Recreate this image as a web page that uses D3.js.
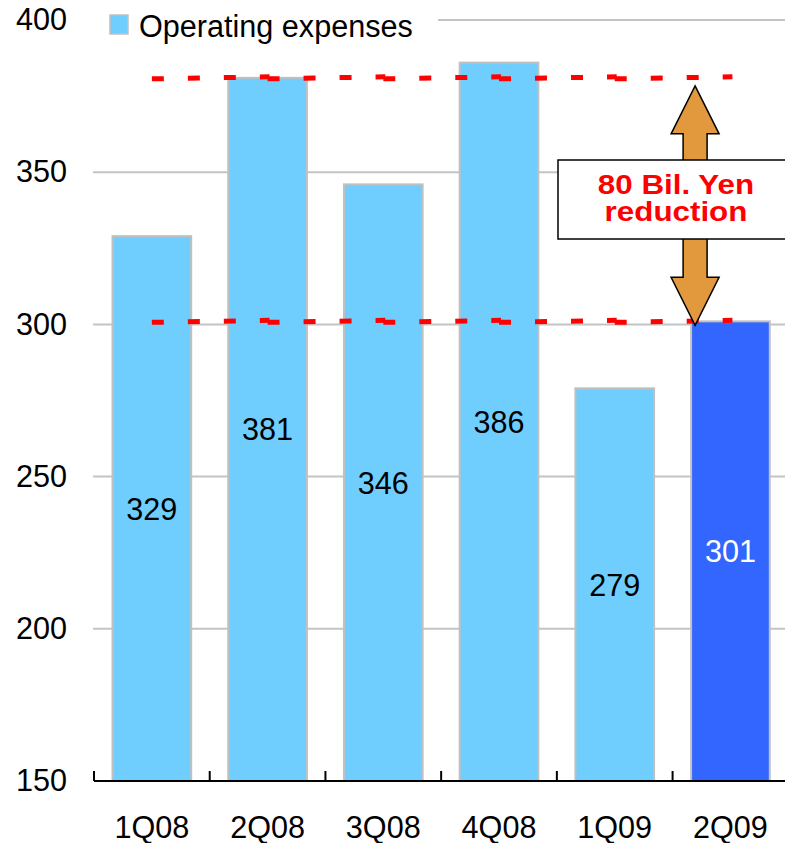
<!DOCTYPE html>
<html>
<head>
<meta charset="utf-8">
<script src="https://cdn.jsdelivr.net/npm/d3@7"></script>
<style>
  html, body { margin: 0; padding: 0; background: #fff; }
  svg { display: block; }
  text { font-family: "Liberation Sans", Arial, sans-serif; }
</style>
</head>
<body>
<svg id="chart" width="785" height="843"></svg>
<script>
// Quarterly operating expenses (billions of yen)
const quarters = ["1Q08", "2Q08", "3Q08", "4Q08", "1Q09", "2Q09"];
const expenses = [329, 381, 346, 386, 279, 301];
const yTicks = [150, 200, 250, 300, 350, 400];
const highlightQuarter = "2Q09";
const legendLabel = "Operating expenses";
const referenceLevels = [381, 301];          // dashed guide levels
const reductionLines = ["80 Bil. Yen", "reduction"];

const W = 785, H = 843;
const FS = 30.6;
const svg = d3.select("#chart");

const x = d3.scaleBand()
  .domain(quarters)
  .range([94, 788.3])
  .paddingInner(0.32)
  .paddingOuter(0.16);

const y = d3.scaleLinear().domain([150, 400]).range([781, 20]);

const lightBlue = "#70cefe";
const darkBlue = "#3366ff";

// Horizontal gridlines
const grid = svg.append("g");
yTicks.filter(t => t > 150).forEach(t => {
  grid.append("line")
    .attr("x1", t === 400 ? 438 : 93).attr("x2", W)
    .attr("y1", y(t)).attr("y2", y(t))
    .attr("stroke", "#c4c4c4").attr("stroke-width", 2);
});

// Y-axis labels (no axis line)
const yAxis = d3.axisLeft(y).tickValues(yTicks).tickSize(0).tickPadding(27);
svg.append("g")
  .attr("transform", "translate(94,0)")
  .call(yAxis)
  .call(g => g.select(".domain").remove())
  .call(g => g.selectAll("text")
    .attr("font-size", FS)
    .attr("fill", "#000")
    .attr("font-family", "Liberation Sans, Arial, sans-serif"));

// Bars
svg.append("g").selectAll("rect")
  .data(quarters.map((q, i) => ({ q, v: expenses[i] })))
  .join("rect")
  .attr("x", d => x(d.q))
  .attr("width", x.bandwidth())
  .attr("y", d => y(d.v))
  .attr("height", d => y(150) - y(d.v))
  .attr("fill", d => d.q === highlightQuarter ? darkBlue : lightBlue)
  .attr("stroke", "#c0c0c0")
  .attr("stroke-width", 2);

// Value labels in the middle of each bar
svg.append("g").selectAll("text")
  .data(quarters.map((q, i) => ({ q, v: expenses[i] })))
  .join("text")
  .attr("x", d => x(d.q) + x.bandwidth() / 2)
  .attr("y", d => (y(d.v) + y(150)) / 2)
  .attr("dy", "0.36em")
  .attr("text-anchor", "middle")
  .attr("font-size", FS)
  .attr("fill", d => d.q === highlightQuarter ? "#fff" : "#000")
  .text(d => d.v);

// X axis: baseline with upward ticks at category boundaries
const axisY = y(150);
const step = x.step();
const x0 = x.range()[0];
svg.append("line")
  .attr("x1", x0).attr("x2", W)
  .attr("y1", axisY).attr("y2", axisY)
  .attr("stroke", "#000").attr("stroke-width", 2);
d3.range(quarters.length + 1).forEach(i => {
  svg.append("line")
    .attr("x1", x0 + i * step).attr("x2", x0 + i * step)
    .attr("y1", axisY).attr("y2", axisY - 10)
    .attr("stroke", "#000").attr("stroke-width", 2);
});
svg.append("g").selectAll("text")
  .data(quarters)
  .join("text")
  .attr("x", d => x(d) + x.bandwidth() / 2)
  .attr("y", 838)
  .attr("text-anchor", "middle")
  .attr("font-size", FS)
  .attr("fill", "#000")
  .text(d => d);

// Dashed red guide lines, drawn centre-to-centre between neighbouring quarters
const centers = quarters.map(q => x(q) + x.bandwidth() / 2);
referenceLevels.forEach(level => {
  for (let i = 0; i < centers.length - 1; i++) {
    svg.append("line")
      .attr("x1", centers[i]).attr("x2", centers[i + 1] + 2)
      .attr("y1", y(level) + 1).attr("y2", y(level) - 1)
      .attr("stroke", "#ff0000")
      .attr("stroke-width", 5)
      .attr("stroke-dasharray", "12,24");
  }
});

// Double-headed arrow between the two levels
const ax = x(highlightQuarter) + 4;
const topTip = y(referenceLevels[0]) + 8;
const botTip = y(referenceLevels[1]) + 4;
const headL = 48, headW = 24, shaftW = 12;
const arrowPts = [
  [ax, topTip],
  [ax + headW, topTip + headL],
  [ax + shaftW, topTip + headL],
  [ax + shaftW, botTip - headL],
  [ax + headW, botTip - headL],
  [ax, botTip],
  [ax - headW, botTip - headL],
  [ax - shaftW, botTip - headL],
  [ax - shaftW, topTip + headL],
  [ax - headW, topTip + headL]
];
svg.append("path")
  .attr("d", d3.line()(arrowPts) + "Z")
  .attr("fill", "#e2993e")
  .attr("stroke", "#000")
  .attr("stroke-width", 1.5)
  .attr("stroke-linejoin", "miter");

// Annotation box
svg.append("rect")
  .attr("x", 558).attr("y", 160)
  .attr("width", 260).attr("height", 79)
  .attr("fill", "#fff")
  .attr("stroke", "#000")
  .attr("stroke-width", 1.5);
const cx = 676;
svg.append("g")
  .attr("transform", `translate(${cx},0) scale(1.12,1)`)
  .selectAll("text")
  .data(reductionLines)
  .join("text")
  .attr("x", 0)
  .attr("y", (d, i) => 194 + i * 27.5)
  .attr("text-anchor", "middle")
  .attr("font-size", 28)
  .attr("font-weight", "bold")
  .attr("fill", "#ff0000")
  .text(d => d);

// Legend
svg.append("rect")
  .attr("x", 110).attr("y", 15)
  .attr("width", 18).attr("height", 19)
  .attr("fill", lightBlue)
  .attr("stroke", "#c0c0c0")
  .attr("stroke-width", 1.5);
svg.append("text")
  .attr("x", 139).attr("y", 37)
  .attr("font-size", FS)
  .attr("fill", "#000")
  .text(legendLabel);
</script>
</body>
</html>
